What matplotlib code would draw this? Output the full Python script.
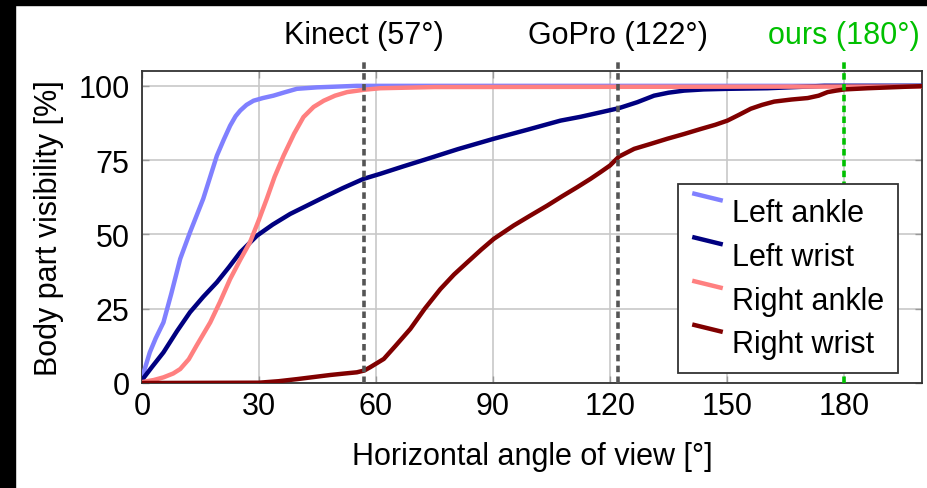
import matplotlib
matplotlib.use("Agg")
import matplotlib.pyplot as plt
from matplotlib.lines import Line2D
from matplotlib.legend_handler import HandlerBase
from matplotlib.patches import Rectangle

plt.rcParams['font.family'] = ['Liberation Sans', 'DejaVu Sans']

# ---- data ----
la_x = [0, 0.3, 2, 3.5, 5.5, 7.5, 9.8, 12.3, 15.7, 19.2, 21, 22.6, 24, 25.2, 26.8, 28.6, 31, 33.7,
        36.5, 39.7, 44.9, 55, 100, 200]
la_y = [2, 3, 10.3, 15, 20.4, 30, 41.8, 50.7, 62, 76.5, 82, 86.6, 89.8, 91.7, 93.6, 95, 95.9, 96.7,
        97.8, 99, 99.5, 100, 100, 100]

lw_x = [0, 2.5, 5.5, 9, 12.3, 15.7, 19.2, 22.3, 25.2, 29.5, 33.5, 38, 42, 46.6, 51.5, 56.8, 61.1,
        67, 73.1, 81, 90.2, 99, 107.3, 112.5, 117.6, 122.3, 127, 131.3, 135, 139, 144, 150.1, 160.4,
        175, 200]
lw_y = [1, 5.3, 10.3, 17.5, 23.8, 29, 33.9, 39, 44, 49.6, 53.3, 56.9, 59.5, 62.5, 65.6, 68.7, 70.4,
        72.9, 75.4, 78.7, 82.2, 85.3, 88.3, 89.6, 91.1, 92.5, 94.5, 96.7, 97.7, 98.4, 98.8, 99,
        99.2, 100, 100]

ra_x = [0, 3, 5.5, 8, 9.8, 12, 14, 17.5, 20, 22.6, 25.2, 27.7, 30, 32, 34, 36.3, 39, 41.4, 44,
        46.6, 49.5, 52.6, 57, 61.1, 75, 200]
ra_y = [0.3, 1, 1.9, 3.2, 4.7, 8, 12.6, 20.4, 27.3, 35, 41.5, 47.4, 55, 62, 69.4, 76.5, 83.9, 89.5,
        92.9, 95, 96.7, 97.9, 98.7, 99.2, 99.6, 99.8]

rw_x = [0, 30, 35, 39.7, 44, 48.3, 52, 55.1, 57, 58.5, 60, 62, 65, 68.8, 72.5, 76.5, 80, 83.4,
        87, 90.2, 95.3, 99.5, 103.9, 107.8, 111.6, 115, 117.6, 120, 122.3, 126.2, 130.5, 134.7,
        139, 143.3, 147, 150.1, 153, 156.1, 159, 162.1, 166.5, 170.7, 173.5, 175.8, 178, 180.1,
        186.1, 192, 199.8]
rw_y = [0, 0.1, 0.6, 1.3, 2, 2.7, 3.2, 3.6, 4.2, 5.3, 6.5, 8.1, 12.5, 18.2, 25, 31.6, 36.5, 40.6,
        44.9, 48.5, 53, 56.3, 59.7, 62.9, 65.9, 68.7, 71, 73.2, 76.2, 78.8, 80.5, 82.2, 83.8,
        85.5, 86.9, 88.3, 90.2, 92.3, 93.6, 94.7, 95.4, 95.9, 96.7, 97.9, 98.4, 98.8, 99.2, 99.5,
        99.9]

series_names = ["Left ankle", "Left wrist", "Right ankle", "Right wrist"]
series_colors = ["#8080ff", "#000080", "#ff8080", "#800000"]

markers_x = [57, 122, 180]
markers_lbl = ["Kinect (57°)", "GoPro (122°)", "ours (180°)"]
markers_col = ["#555555", "#555555", "#00c000"]
markers_txt = ["black", "black", "#00c000"]

xticks = [0, 30, 60, 90, 120, 150, 180]
yticks = [0, 25, 50, 75, 100]

FS = 22


class SlantHandler(HandlerBase):
    def create_artists(self, legend, orig_handle, xdescent, ydescent, width, height,
                       fontsize, trans):
        x0 = -xdescent
        y0 = -ydescent
        ln = Line2D([x0, x0 + width], [y0 + height * 1.3, y0 + height * 0.95],
                    color=orig_handle.get_color(), lw=orig_handle.get_linewidth(),
                    solid_capstyle='butt', transform=trans)
        return [ln]


fig = plt.figure(figsize=(9.27, 4.89), dpi=100, facecolor='white')
ax = fig.add_axes([142 / 927, 1 - 384 / 489, 780 / 927, 312 / 489])

handles = []
for (xs, ys), name, col in zip([(la_x, la_y), (lw_x, lw_y), (ra_x, ra_y), (rw_x, rw_y)],
                               series_names, series_colors):
    h, = ax.plot(xs, ys, color=col, lw=3.2, label=name, solid_joinstyle='round', zorder=3)
    handles.append(h)

for mx, lbl, col, tc in zip(markers_x, markers_lbl, markers_col, markers_txt):
    ax.plot([mx, mx], [0, 109], color=col, lw=2.6, ls=(0, (1.8, 1.2)), clip_on=False, zorder=4)
    ax.text(mx, 117, lbl, color=tc, ha='center', va='center', fontsize=FS)

ax.set_xlim(0, 200)
ax.set_ylim(0, 105)
ax.set_xticks(xticks)
ax.set_yticks(yticks)
ax.tick_params(direction='in', length=5, width=1, color='#999999', labelsize=FS,
               top=True, right=True)
ax.tick_params(axis='y', pad=9)
ax.tick_params(axis='x', pad=6)
ax.grid(True, color='#c8c8c8', lw=1.2, zorder=0)
for s in ax.spines.values():
    s.set_color('#333333')
    s.set_linewidth(1.3)

ax.set_xlabel("Horizontal angle of view [°]", fontsize=FS, labelpad=14)
ax.set_ylabel("Body part visibility [%]", fontsize=FS, labelpad=10)

leg = ax.legend(handles=handles, loc='lower right', bbox_to_anchor=(0.969, 0.032),
                handler_map={Line2D: SlantHandler()}, fontsize=FS, frameon=True,
                fancybox=False, framealpha=1, edgecolor='#333333', handlelength=1.0,
                handletextpad=0.3, labelspacing=0.45, borderpad=0.45, borderaxespad=0)
leg.get_frame().set_linewidth(1.3)
leg.set_zorder(5)

# black border strips of the reference image
fig.patches.append(Rectangle((0, 1 - 6 / 489), 1, 6 / 489, transform=fig.transFigure,
                             color='black', zorder=10))
fig.patches.append(Rectangle((0, 0), 15 / 927, 1, transform=fig.transFigure,
                             color='black', zorder=10))

fig.savefig("out.png", dpi=100, facecolor='white')
